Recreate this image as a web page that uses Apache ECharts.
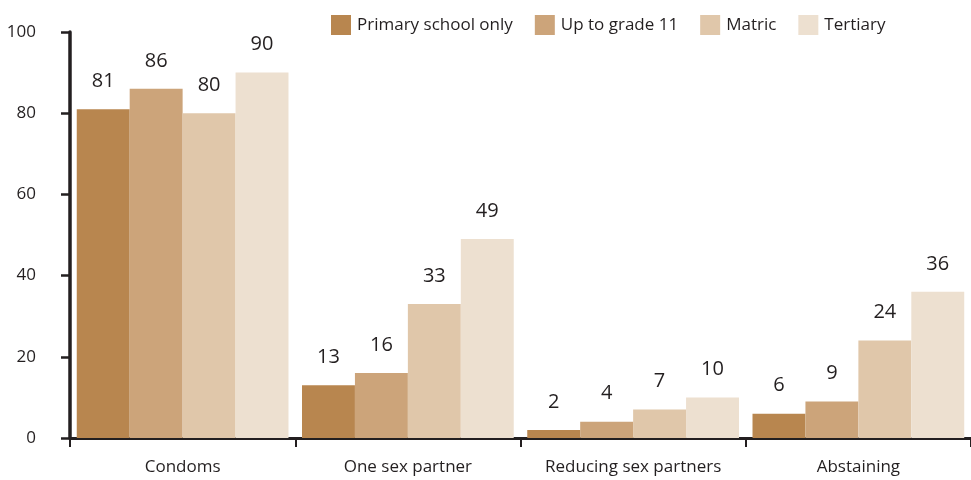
<!DOCTYPE html>
<html><head><meta charset="utf-8">
<script src="https://cdn.jsdelivr.net/npm/echarts@6/dist/echarts.min.js"></script>
<style>html,body{margin:0;padding:0;background:#fff}#c{width:971px;height:480px}</style>
</head><body><div id="c"></div>
<script>
var categories = ['Condoms', 'One sex partner', 'Reducing sex partners', 'Abstaining'];
var seriesNames = ['Primary school only', 'Up to grade 11', 'Matric', 'Tertiary'];
var primary = [81, 13, 2, 6];
var grade11 = [86, 16, 4, 9];
var matric = [80, 33, 7, 24];
var tertiary = [90, 49, 10, 36];
var yTicks = [0, 20, 40, 60, 80, 100];

var colors = ['#B8864F', '#CCA47A', '#E0C7AA', '#EDE0D0'];
var values = [primary, grade11, matric, tertiary];
var font = '"Open Sans", "Noto Sans", sans-serif';
var ink = '#231F20';
var yMin = yTicks[0], yMax = yTicks[yTicks.length - 1];

var chart = echarts.init(document.getElementById('c'));
chart.setOption({
  animation: false,
  textStyle: {fontFamily: font},
  legend: {
    top: 10, left: 326, itemWidth: 20, itemHeight: 20, itemGap: 22,
    icon: 'rect',
    textStyle: {fontSize: 17, color: ink, fontFamily: font, padding: [0, 0, 0, 1]},
    data: seriesNames
  },
  grid: {left: 70, top: 32, width: 910, height: 406, containLabel: false},
  xAxis: {
    type: 'category', data: categories,
    axisLine: {lineStyle: {color: ink, width: 3}},
    axisTick: {show: true, inside: false, interval: 0, length: 9, lineStyle: {color: ink, width: 2}},
    axisLabel: {interval: 0, fontSize: 17, color: ink, margin: 21, fontFamily: font}
  },
  yAxis: [{
    type: 'value', position: 'left', min: yMin, max: yMax, interval: 20,
    splitLine: {show: false},
    axisLine: {show: true, onZero: false, lineStyle: {color: ink, width: 3.5}},
    axisTick: {show: true, inside: false, length: 9, lineStyle: {color: ink, width: 2.5}},
    axisLabel: {show: true, fontSize: 17, color: ink, margin: 34, fontFamily: font}
  }, {
    type: 'value', position: 'left', offset: 9, min: yMin, max: yMax, interval: 20,
    splitLine: {show: false},
    axisLine: {show: false},
    axisTick: {show: true, inside: true, length: 10, lineStyle: {color: ink, width: 2.5}},
    axisLabel: {show: false}
  }],
  series: seriesNames.map(function (n, i) {
    return {
      name: n, type: 'bar', data: values[i], barGap: '0%', barCategoryGap: '6%',
      yAxisIndex: 0,
      itemStyle: {color: colors[i]},
      label: {show: true, position: 'top', distance: 18, fontSize: 20, color: ink, fontFamily: font}
    };
  })
});
</script></body></html>
